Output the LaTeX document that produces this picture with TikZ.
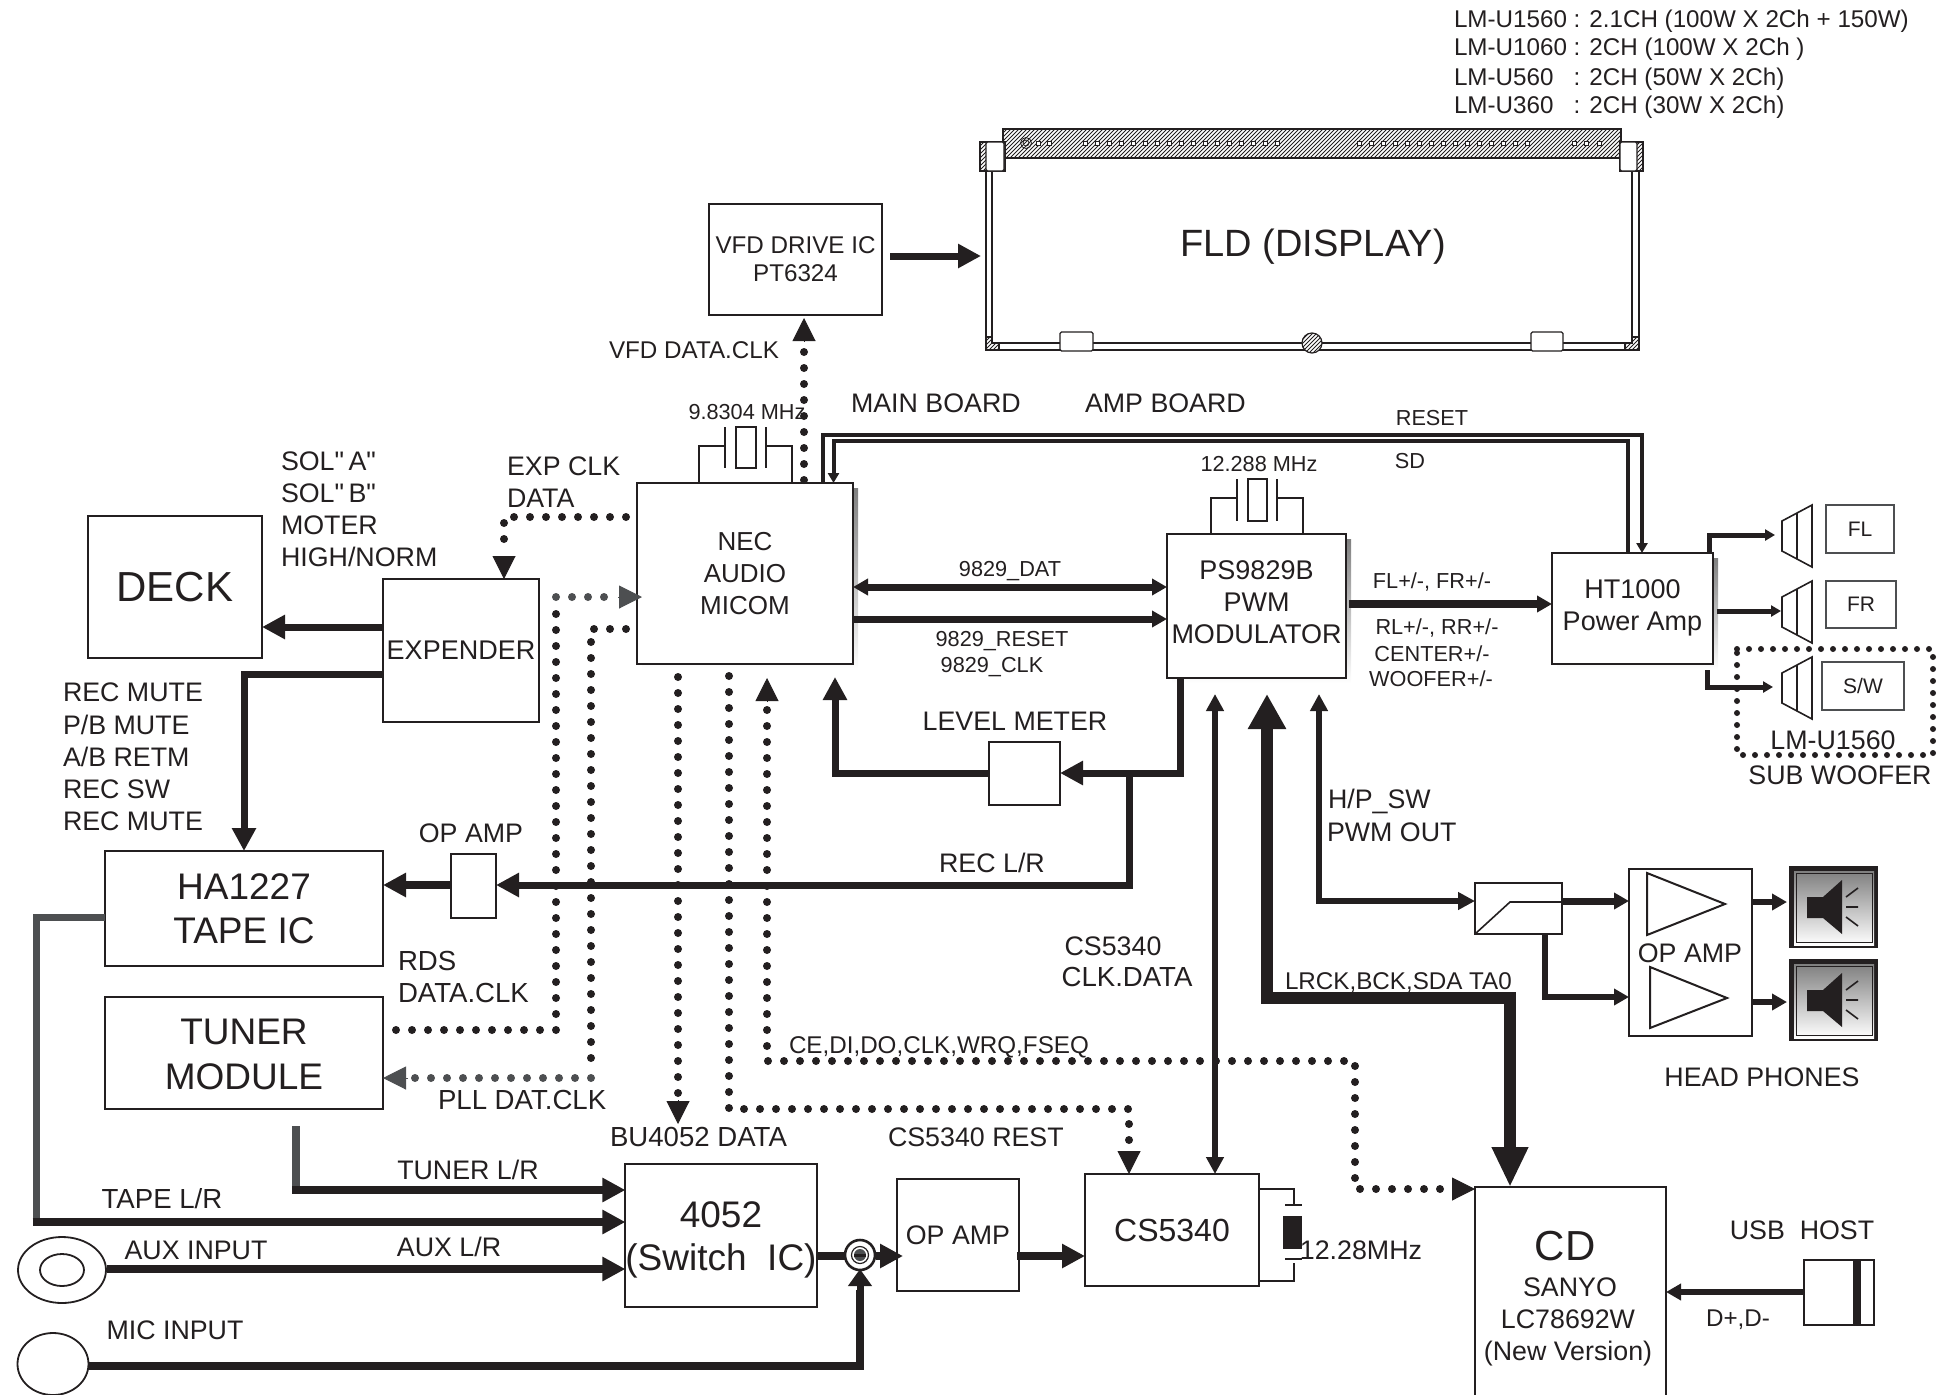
\documentclass[tikz,border=0pt]{standalone}
\usepackage{fontspec}
\setmainfont{Liberation Sans}
\newfontfamily\rawf{Liberation Sans}
\usetikzlibrary{arrows.meta,shapes.geometric}
\definecolor{ink}{HTML}{231F20}
\definecolor{dim}{HTML}{4D4F51}
\definecolor{shade}{HTML}{CDCFD0}
\tikzset{
  bxs/.style={draw=ink,fill=white,line width=2pt,inner sep=0pt,outer sep=0pt,align=center,text=ink},
  lb/.style={inner sep=0pt,outer sep=0pt,text=ink,text depth=0pt},
  f21/.style={font=\fontsize{21.7}{26}\selectfont,text height=15.5pt},
  f24/.style={font=\fontsize{24.2}{29}\selectfont,text height=17.3pt},
  f26/.style={font=\fontsize{26.8}{32}\selectfont,text height=19.2pt},
  f27/.style={font=\fontsize{27.6}{32}\selectfont,text height=19.8pt},
  f38/.style={font=\fontsize{38}{44}\selectfont,text height=27.2pt},
  f42/.style={font=\fontsize{42}{50}\selectfont,text height=30pt},
  tipS/.tip={Triangle[length=10pt,width=11pt]},
  tipM/.tip={Triangle[length=15pt,width=16pt]},
  tipH/.tip={Triangle[length=17pt,width=17pt]},
  tipU/.tip={Triangle[length=17pt,width=23pt]},
  tipL/.tip={Triangle[length=23pt,width=23pt]},
  tipXL/.tip={Triangle[length=35pt,width=36pt]},
  tipCD/.tip={Triangle[length=40pt,width=34pt]},
  wr/.style={draw=ink,line width=#1,line join=miter},
  thinline/.style={draw=ink,line width=1.6pt},
  frameline/.style={draw=ink,line width=1.2pt},
  dots/.style={draw=ink,line width=8pt,line cap=round,dash pattern=on 0pt off 16pt},
  dotsG/.style={draw=dim,line width=8pt,line cap=round,dash pattern=on 0pt off 16pt},
  dotsS/.style={draw=ink,line width=6pt,line cap=round,dash pattern=on 0pt off 12pt},
  hatchline/.style={draw=ink,line width=.9pt},
}
\newcommand\bxn[7][]{\node[bxs,minimum width={(#5-#3)*1pt},minimum height={(#6-#4)*1pt},#1] (#2) at ({(#3+#5)/2},{(#4+#6)/2}) {#7};}
\newcommand\lbl[5][]{\node[lb,#1] (#2) at (#3,#4) {#5};}
% hatched rectangle: x1 y1 x2 y2
\newcommand\hrect[4]{\begin{scope}
  \clip (#1,#2) rectangle (#3,#4);
  \pgfmathtruncatemacro\hstart{(#1-(#4-#2))}
  \pgfmathtruncatemacro\hnext{\hstart+4}
  \foreach \k in {\hstart,\hnext,...,#3} \draw[hatchline] (\k,#4) -- (\k+#4-#2,#2);
\end{scope}\draw[frameline] (#1,#2) rectangle (#3,#4);}
\newcommand\hpicon[1]{\begin{scope}[yshift={-(#1)*1pt}]
  \fill[ink] (1789,866) rectangle (1878,948);
  \fill[shade] (1794,871) rectangle (1874,945);
  \draw[ink,line width=1pt] (1796,873) rectangle (1872,942);
  \fill[ink] (1807,897) -- (1823,897) -- (1842,880) -- (1842,934) -- (1823,918) -- (1807,918) -- cycle;
  \draw[ink,line width=1.6pt] (1846,897) -- (1858,888) (1846,907) -- (1858,907) (1846,917) -- (1858,926);
\end{scope}}
\newcommand\spk[1]{\begin{scope}[yshift={-(#1)*1pt}]
  \draw[thinline,line join=miter] (1782,521) -- (1812,505) -- (1812,567) -- (1782,551) -- cycle (1797,513) -- (1797,559);
\end{scope}}
\begin{document}
\begin{tikzpicture}[x=1pt,y=-1pt]
\useasboundingbox (0,0) rectangle (1939,1395);
% shadows
\fill[shade] (642,488) rectangle (858,670);
\fill[shade] (1172,539) rectangle (1351,683);
\fill[shade] (1557,558) rectangle (1718,670);
% boxes
\bxn[font=\fontsize{24.2}{28}\selectfont]{vfd}{709}{204}{882}{315}{VFD DRIVE IC\\PT6324}
\bxn[font=\fontsize{42}{50}\selectfont]{deck}{88}{516}{262}{658}{DECK}
\bxn[font=\fontsize{27}{32}\selectfont]{exp}{383}{579}{539}{722}{EXPENDER}
\bxn[line width=2.6pt,font=\fontsize{26}{32}\selectfont]{nec}{637}{483}{853}{664}{NEC\\AUDIO\\MICOM}
\bxn[line width=2.6pt,font=\fontsize{27}{32}\selectfont]{ps}{1167}{534}{1346}{678}{PS9829B\\PWM\\MODULATOR\rule[-8pt]{0pt}{8pt}}
\bxn[line width=2.6pt,font=\fontsize{27}{32}\selectfont,text depth=6pt]{ht}{1552}{553}{1713}{664}{HT1000\\Power Amp}
\bxn[font=\fontsize{37}{44}\selectfont]{ha}{105}{851}{383}{966}{HA1227\\TAPE IC}
\bxn[font=\fontsize{37}{45}\selectfont]{tuner}{105}{997}{383}{1109}{\rule{0pt}{29pt}TUNER\\MODULE}
\bxn{lvl}{989}{742}{1060}{805}{}
\bxn{opa}{451}{854}{496}{918}{}
\bxn[font=\fontsize{37}{43}\selectfont]{sw}{626}{1164}{816}{1307}{\rule{0pt}{35pt}4052\\(Switch\ \ IC)}
\bxn[font=\fontsize{26.8}{32}\selectfont]{opb}{897}{1179}{1019}{1291}{OP AMP}
\bxn[font=\fontsize{32}{38}\selectfont]{cs}{1085}{1174}{1259}{1286}{CS5340}
\bxn{cd}{1475}{1187}{1666}{1400}{}
\bxn{lim}{1475}{883}{1562}{934}{}
\bxn{opc}{1629}{869}{1752}{1036}{}
\bxn{usb}{1804}{1260}{1874}{1325}{}
\bxn[draw=dim,font=\fontsize{21}{26}\selectfont]{fl}{1826}{505}{1894}{553}{FL}
\bxn[draw=dim,font=\fontsize{21}{26}\selectfont]{fr}{1826}{581}{1896}{628}{FR}
\bxn[draw=dim,font=\fontsize{21}{26}\selectfont]{sws}{1822}{662}{1904}{710}{S/W}
\node[draw=ink,ellipse,line width=1.8pt,inner sep=0pt,minimum width=88pt,minimum height=66pt] (aux) at (62,1270) {};
\node[draw=ink,ellipse,line width=1.8pt,inner sep=0pt,minimum width=44pt,minimum height=32pt] (auxin) at (62,1270) {};
\node[draw=ink,ellipse,line width=1.8pt,inner sep=0pt,minimum width=71pt,minimum height=62pt] (mic) at (53,1364) {};
% FLD display
\node[inner sep=0pt,outer sep=0pt,minimum width=658pt,minimum height=221pt] (fld) at (1310,239.5) {};
\draw[frameline] (986,171) -- (986,350) -- (1639,350) -- (1639,171);
\draw[frameline] (992,171) -- (992,343) -- (1632,343) -- (1632,171);
\hrect{986}{337}{999}{350}
\hrect{1625}{337}{1639}{350}
\fill[white] (992.6,336) rectangle (1000,342.4);
\fill[white] (1624,336) rectangle (1631.4,342.4);
\draw[frameline] (992,337) -- (992,343) -- (999,343);
\draw[frameline] (1632,337) -- (1632,343) -- (1625,343);
\hrect{980}{142}{1005}{171}
\hrect{1620}{142}{1643}{171}
\hrect{1003}{129}{1621}{158}
\draw[frameline,fill=white,rounded corners=1.5pt] (986,142) rectangle (1004,171);
\draw[frameline,fill=white,rounded corners=1.5pt] (1620,142) rectangle (1637,171);
\draw[frameline,fill=white,rounded corners=1.5pt] (1060,332) rectangle (1093,351);
\draw[frameline,fill=white,rounded corners=1.5pt] (1531,332) rectangle (1563,351);
\fill[white] (1312,343) ellipse [x radius=10pt,y radius=10pt];
\begin{scope}
  \clip (1312,343) ellipse [x radius=10pt,y radius=10pt];
  \foreach \k in {1281,1285,...,1324} \draw[hatchline] (\k,353) -- (\k+20,333);
\end{scope}
\draw[frameline] (1312,343) ellipse [x radius=10pt,y radius=10pt];
\draw[ink,line width=.8pt] (1026,143) circle [radius=5.5pt];
\draw[ink,line width=.8pt] (1026,143) circle [radius=3pt];
\foreach \hx in {1038,1049,1085,1097,...,1288,1359,1371,...,1538,1574,1586,1599}
  \draw[ink,line width=.7pt,fill=white] (\hx-2,141) rectangle (\hx+2,145);
\lbl[f38]{fldt}{1313}{243}{FLD (DISPLAY)}
% crystals
\draw[thinline] (699,0 |- nec.north) -- (699,446) -- (725,446) (725,427) -- (725,468) (766,427) -- (766,468) (766,446) -- (792,446) -- (792,0 |- nec.north);
\draw[thinline] (736,427) rectangle (756,468);
\draw[thinline] (1211,0 |- ps.north) -- (1211,498) -- (1237,498) (1237,479) -- (1237,521) (1277,479) -- (1277,521) (1277,498) -- (1303,498) -- (1303,0 |- ps.north);
\draw[thinline] (1248,479) rectangle (1267,521);
\draw[thinline] (cs.east |- 0,1189) -- (1294,1189) -- (1294,1205) (1285,1205) -- (1302,1205) (1285,1259) -- (1302,1259) (1294,1263) -- (1294,1281) -- (cs.east |- 0,1281);
\fill[ink] (1283,1216) rectangle (1302,1249);
% solid connectors
\draw[wr=7pt,-tipL] (890,256) -- (fld.west |- 0,256);
\draw[wr=7pt,-tipL] (exp.west |- 0,627) -- (deck.east |- 0,627);
\draw[wr=7pt,-tipL] (exp.west |- 0,674) -- (244,674) -- (244,0 |- ha.north);
\draw[wr=4pt] (823,0 |- nec.north) -- (823,435) -- (1642,435) -- (1642,540);
\draw[wr=4pt,-tipS] (1642,535) -- (1642,0 |- ht.north);
\draw[wr=4pt] (1628,0 |- ht.north) -- (1628,441) -- (833.5,441) -- (833.5,470);
\draw[wr=4pt,-tipS] (833.5,465) -- (833.5,0 |- nec.north);
\draw[wr=7pt,tipM-tipM] (nec.east |- 0,587) -- (ps.west |- 0,587);
\draw[wr=7pt,-tipM] (nec.east |- 0,619) -- (ps.west |- 0,619);
\draw[wr=8pt,-tipM] (1349,604) -- (ht.west |- 0,604);
\draw[wr=5pt,-tipS] (1709,0 |- ht.north) -- (1709,535) -- (1775,535);
\draw[wr=5pt,-tipS] (1717,611) -- (1781,611);
\draw[wr=5pt,-tipS] (1707,670) -- (1707,687) -- (1773,687);
\draw[wr=7pt,-tipL] (1180,0 |- ps.south) -- (1180,773) -- (lvl.east |- 0,773);
\draw[wr=7pt,-tipL] (lvl.west |- 0,773) -- (835,773) -- (835,677);
\draw[wr=7pt,-tipL] (1129,773) -- (1129,885) -- (opa.east |- 0,885);
\draw[wr=8pt,-tipL] (opa.west |- 0,885) -- (ha.east |- 0,885);
\draw[wr=6pt,tipH-tipH] (1215,694) -- (1215,0 |- cs.north);
\draw[wr=6pt,-tipH] (1319,720) -- (1319,694);
\draw[wr=6pt,-tipH] (1319,710) -- (1319,901) -- (lim.west |- 0,901);
\draw[wr=12pt,-tipXL] (1267,740) -- (1267,694);
\draw[wr=12pt] (1267,725) -- (1267,998) -- (1510,998) -- (1510,1150);
\draw[wr=12pt,-tipCD] (1510,1130) -- (1510,0 |- cd.north);
\draw[wr=7pt,-tipM] (lim.east |- 0,901) -- (opc.west |- 0,901);
\draw[wr=6pt,-tipM] (1545,0 |- lim.south) -- (1545,997) -- (opc.west |- 0,997);
\draw[wr=6pt,-tipM] (opc.east |- 0,902) -- (1787,902);
\draw[wr=6pt,-tipM] (opc.east |- 0,1002) -- (1787,1002);
\draw[draw=dim,line width=7pt] (ha.west |- 0,917) -- (36,917) -- (36,1222);
\draw[wr=8pt,-tipL] (32.5,1222) -- (sw.west |- 0,1222);
\draw[draw=dim,line width=8pt] (296,1126) -- (296,1190);
\draw[wr=8pt,-tipL] (292,1190) -- (sw.west |- 0,1190);
\draw[wr=8pt,-tipL] (aux.east |- 0,1269) -- (sw.west |- 0,1269);
\draw[wr=8pt] (sw.east |- 0,1256) -- (850,1256);
\node[draw=ink,fill=white,circle,line width=2.6pt,inner sep=0pt,minimum size=30pt] (jct) at (860,1255) {};
\node[draw=ink,fill=white,circle,line width=1.2pt,inner sep=0pt,minimum size=17pt] (jctb) at (860,1255) {};
\fill[dim] (860,1255) circle [radius=6pt];
\fill[ink] (854,1254) rectangle (866,1257);
\draw[wr=8pt,-tipL] (876,1256) -- (903,1256);
\draw[wr=8pt] (mic.east |- 0,1366) -- (860,1366) -- (860,1290);
\draw[wr=7pt,-tipU] (860,1295) -- (860,1269);
\draw[wr=8pt,-tipL] (1017,1256) -- (cs.west |- 0,1256);
\draw[wr=6pt,-tipM] (usb.west |- 0,1292) -- (cd.east |- 0,1292);
\fill[ink] (1853,1260) rectangle (1861,1325);
% limiter & op amps inner
\draw[thinline] (1475,934) -- (1510,902) -- (1562,902);
\draw[wr=2pt,line join=miter] (1647,873) -- (1725,904) -- (1647,935) -- cycle;
\draw[wr=2pt,line join=miter] (1650,967) -- (1727,998) -- (1650,1028) -- cycle;
\hpicon{0}\hpicon{93}
\spk{0}\spk{76}\spk{152}
% dotted connectors
\draw[dots] (804,480) -- (804,345);
\draw[draw=ink,-tipL,line width=1pt] (804,341) -- (804,318);
\draw[dots] (626,517) -- (504,517) -- (504,552);
\draw[draw=ink,-tipL,line width=1pt] (504,556) -- (504,0 |- exp.north);
\draw[dots] (396,1030) -- (556,1030) -- (556,613);
\draw[dotsG] (556,597) -- (620,597);
\draw[draw=dim,-tipL,line width=1pt] (618,597) -- (642,597);
\draw[dots] (626,629) -- (591,629) -- (591,1062);
\draw[dotsG] (591,1078) -- (413,1078);
\draw[draw=dim,-tipL,line width=1pt] (408,1078) -- (ha.east |- 0,1078);
\draw[dots] (678,677) -- (678,1096);
\draw[draw=ink,-tipL,line width=1pt] (678,1100) -- (678,1124);
\draw[dots] (729,676) -- (729,1109) -- (1129,1109) -- (1129,1146);
\draw[draw=ink,-tipL,line width=1pt] (1129,1151) -- (1129,0 |- cs.north);
\draw[draw=ink,-tipL,line width=1pt] (767,702) -- (767,678);
\draw[dots] (767,710) -- (767,1061) -- (1355,1061) -- (1355,1189) -- (1450,1189);
\draw[draw=ink,-tipL,line width=1pt] (1452,1189) -- (cd.west |- 0,1189);
\draw[dotsS] (1737,649) -- (1933,649) -- (1933,755) -- (1737,755) -- cycle;
% labels
\lbl[f24,anchor=west]{m1}{1454}{19}{LM-U1560 : 2.1CH (100W X 2Ch + 150W)}
\lbl[f24,anchor=west]{m2}{1454}{47}{LM-U1060 : 2CH (100W X 2Ch )}
\lbl[f24,anchor=west]{m3}{1454}{77}{LM-U560\ \ \ : 2CH (50W X 2Ch)}
\lbl[f24,anchor=west]{m4}{1454}{105}{LM-U360\ \ \ : 2CH (30W X 2Ch)}
\lbl[f24]{vdc}{694}{350}{VFD DATA.CLK}
\lbl[f21]{x1}{747}{412}{9.8304 MHz}
\lbl[f26,anchor=west]{mb}{851}{403}{MAIN BOARD}
\lbl[f26,anchor=west]{ab}{1085}{403}{AMP BOARD}
\lbl[f21]{rst}{1432}{418}{RESET}
\lbl[f21]{sd}{1410}{461}{SD}
\lbl[f21]{x2}{1259}{464}{12.288 MHz}
\lbl[f26,anchor=west]{s1}{281}{461}{{\rawf SOL"\,A"}}
\lbl[f26,anchor=west]{s2}{281}{493}{{\rawf SOL"\,B"}}
\lbl[f26,anchor=west]{s3}{281}{525}{MOTER}
\lbl[f26,anchor=west]{s4}{281}{557}{HIGH/NORM}
\lbl[f26,anchor=west]{e1}{507}{466}{EXP CLK}
\lbl[f26,anchor=west]{e2}{507}{498}{DATA}
\lbl[f26,anchor=west]{r1}{63}{692}{REC MUTE}
\lbl[f26,anchor=west]{r2}{63}{725}{P/B MUTE}
\lbl[f26,anchor=west]{r3}{63}{757}{A/B RETM}
\lbl[f26,anchor=west]{r4}{63}{789}{REC SW}
\lbl[f26,anchor=west]{r5}{63}{821}{REC MUTE}
\lbl[f21]{d1}{1010}{569}{9829\_DAT}
\lbl[f21]{d2}{1002}{639}{9829\_RESET}
\lbl[f21]{d3}{992}{665}{9829\_CLK}
\lbl[f21]{o1}{1432}{581}{FL+/-, FR+/-}
\lbl[f21]{o2}{1437}{627}{RL+/-, RR+/-}
\lbl[f21]{o3}{1432}{654}{CENTER+/-}
\lbl[f21]{o4}{1431}{679}{WOOFER+/-}
\lbl[f26]{lm}{1015}{721}{LEVEL METER}
\lbl[f26]{oa}{471}{833}{OP AMP}
\lbl[f26]{recl}{992}{863}{REC L/R}
\lbl[f26,anchor=west]{hp}{1328}{799}{H/P\_SW}
\lbl[f26,anchor=west]{pw}{1327}{832}{PWM OUT}
\lbl[f26]{c1}{1113}{946}{CS5340}
\lbl[f27]{c2}{1127}{977}{CLK.DATA}
\lbl[f24,anchor=west]{lr}{1285}{981}{LRCK,BCK,SDA TA0}
\lbl[f24,anchor=west]{ce}{789}{1045}{CE,DI,DO,CLK,WRQ,FSEQ}
\lbl[f27,anchor=west]{rd}{398}{961}{RDS}
\lbl[f27,anchor=west]{dc}{398}{993}{DATA.CLK}
\lbl[f27,anchor=west]{pl}{438}{1100}{PLL DAT.CLK}
\lbl[f27,anchor=west]{bu}{610}{1137}{BU4052 DATA}
\lbl[f26,anchor=west]{cr}{888}{1137}{CS5340 REST}
\lbl[f26]{hph}{1762}{1077}{HEAD PHONES}
\lbl[f26]{oc}{1690}{953}{OP AMP}
\lbl[f26]{lmu}{1833}{740}{LM-U1560}
\lbl[f26]{swf}{1840}{775}{SUB WOOFER}
\lbl[f26]{tn}{468}{1170}{TUNER L/R}
\lbl[f27]{tp}{162}{1199}{TAPE L/R}
\lbl[f26]{ai}{196}{1250}{AUX INPUT}
\lbl[f26]{al}{449}{1247}{AUX L/R}
\lbl[f26]{mi}{175}{1330}{MIC INPUT}
\lbl[f26]{xc}{1361}{1250}{12.28MHz}
\lbl[f42]{cdt}{1565}{1245}{CD}
\lbl[f26]{cd1}{1570}{1287}{SANYO}
\lbl[f26]{cd2}{1568}{1319}{LC78692W}
\lbl[f26]{cd3}{1568}{1351}{(New Version)}
\lbl[f26]{ush}{1802}{1230}{USB\ \ HOST}
\lbl[f24]{dd}{1738}{1318}{D+,D-}
\end{tikzpicture}
\end{document}
